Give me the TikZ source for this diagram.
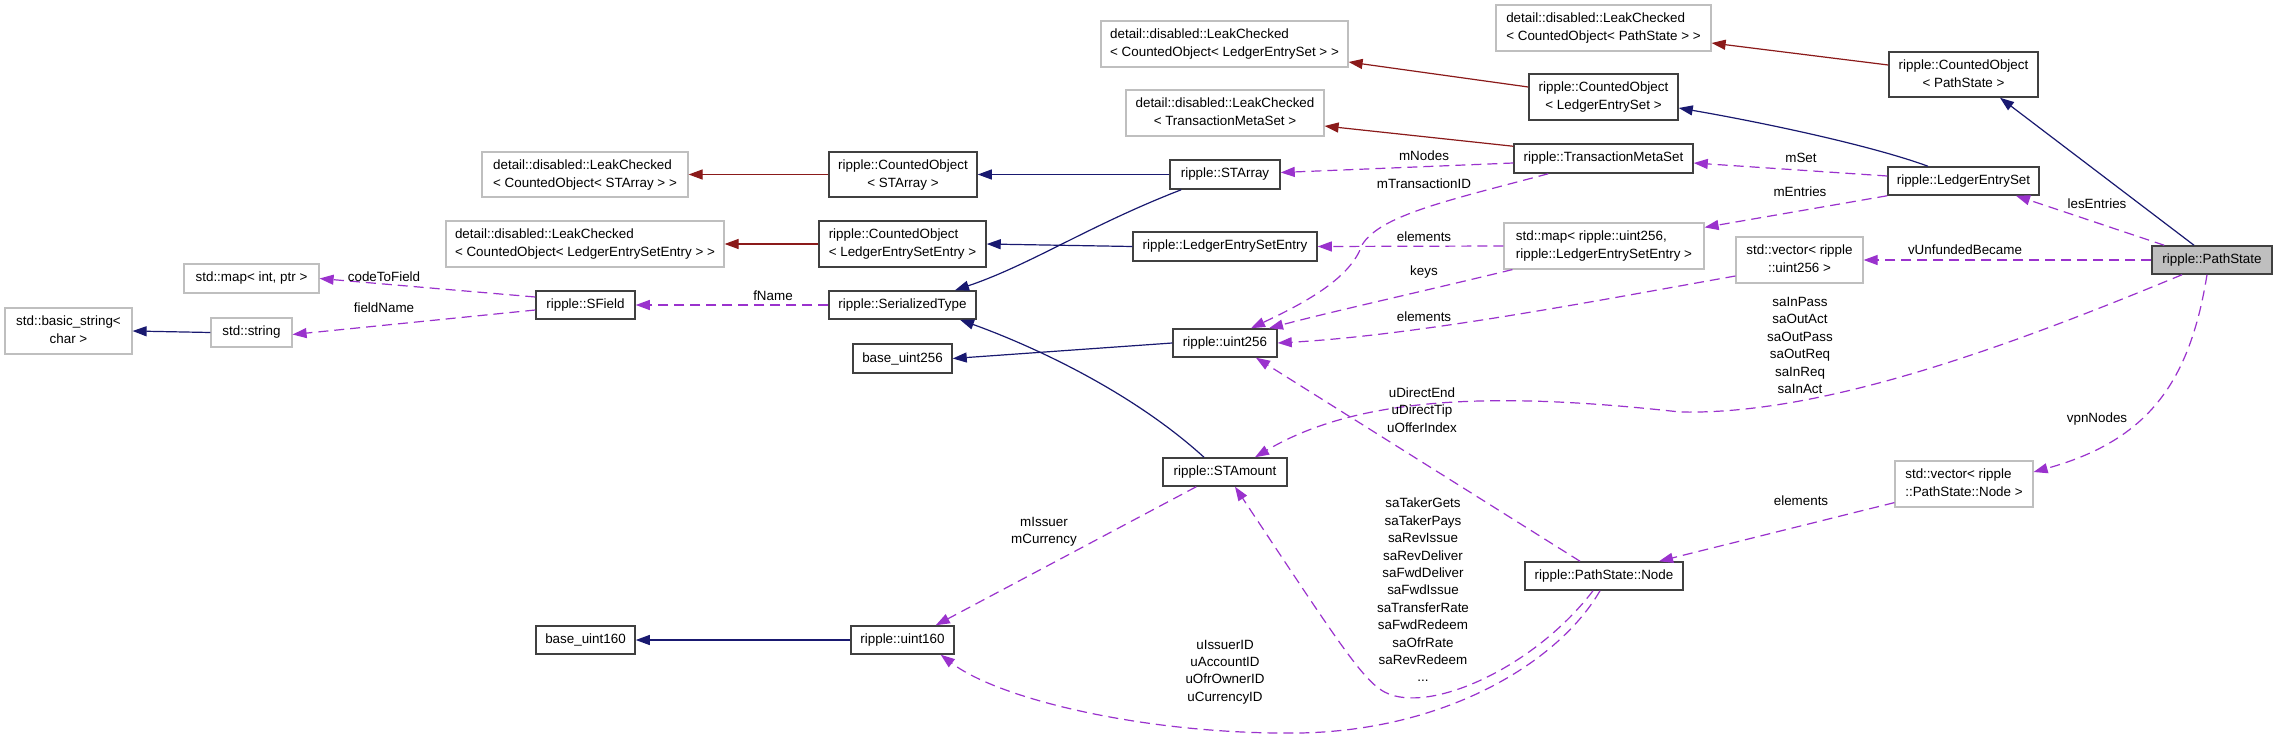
\documentclass[tikz,border=0pt]{standalone}
\usepackage{fontspec}
\setmainfont{Liberation Sans}
\usetikzlibrary{arrows.meta}
\definecolor{inh}{HTML}{191970}
\definecolor{tmpl}{HTML}{8B1A1A}
\definecolor{usecol}{HTML}{9A32CD}
\definecolor{gbord}{HTML}{BFBFBF}
\definecolor{kbord}{HTML}{404040}
\definecolor{psfill}{HTML}{BFBFBF}
\newcommand{\twoline}[2]{\begin{tabular}{@{}l@{}}#1\\\multicolumn{1}{@{}c@{}}{#2}\end{tabular}}
\begin{document}
\begin{tikzpicture}[x=0.5pt,y=-0.5pt,
  every node/.style={font=\fontsize{6.7}{9}\selectfont, inner sep=0pt},
  kbox/.style={draw=kbord, line width=0.75pt, fill=white},
  gbox/.style={draw=gbord, line width=0.6pt, fill=white},
  tip/.style={-{Triangle[length=7pt,width=5pt]}},
  inhedge/.style={draw=inh, line width=0.6pt, tip},
  tmpledge/.style={draw=tmpl, line width=0.6pt, tip},
  useedge/.style={draw=usecol, line width=0.6pt, dash pattern=on 5pt off 3pt, tip},
  lbl/.style={align=center, font=\fontsize{6.7}{8.7}\selectfont}]
\useasboundingbox (0,0) rectangle (2277,739);
\fill[white] (0,0) rectangle (2277,739);

% nodes
\node[gbox, minimum width=107.5pt, minimum height=23pt] (lcPS) at (1603.5,28) {\twoline{detail::disabled::LeakChecked}{< CountedObject< PathState > >}};
\node[gbox, minimum width=123.5pt, minimum height=23pt] (lcLES) at (1224.5,44) {\twoline{detail::disabled::LeakChecked}{< CountedObject< LedgerEntrySet > >}};
\node[kbox, minimum width=74.5pt, minimum height=23pt] (coLES) at (1603.5,97) {\twoline{ripple::CountedObject}{< LedgerEntrySet >}};
\node[kbox, minimum width=74.5pt, minimum height=22.5pt] (coPS) at (1963.5,74.5) {\twoline{ripple::CountedObject}{< PathState >}};
\node[gbox, minimum width=99pt, minimum height=23pt] (lcTMS) at (1225,113) {\twoline{detail::disabled::LeakChecked}{< TransactionMetaSet >}};
\node[kbox, minimum width=89.5pt, minimum height=14.5pt] (TMS) at (1603.5,158.5) {ripple::TransactionMetaSet};
\node[kbox, minimum width=75.5pt, minimum height=14pt] (LES) at (1963.5,181) {ripple::LedgerEntrySet};
\node[gbox, minimum width=103pt, minimum height=22.5pt] (lcSTA) at (585,174.5) {\twoline{detail::disabled::LeakChecked}{< CountedObject< STArray > >}};
\node[kbox, minimum width=74pt, minimum height=22.5pt] (coSTA) at (903,174.5) {\twoline{ripple::CountedObject}{< STArray >}};
\node[kbox, minimum width=55pt, minimum height=14.5pt] (STA) at (1225,174.5) {ripple::STArray};
\node[gbox, minimum width=139pt, minimum height=23pt] (lcLESE) at (585,244) {\twoline{detail::disabled::LeakChecked}{< CountedObject< LedgerEntrySetEntry > >}};
\node[kbox, minimum width=83.5pt, minimum height=23pt] (coLESE) at (902.5,244) {\twoline{ripple::CountedObject}{< LedgerEntrySetEntry >}};
\node[kbox, minimum width=92pt, minimum height=14.5pt] (LESE) at (1225,246.5) {ripple::LedgerEntrySetEntry};
\node[gbox, minimum width=100pt, minimum height=23pt] (mapU) at (1604,246) {\twoline{std::map< ripple::uint256,}{ripple::LedgerEntrySetEntry >}};
\node[gbox, minimum width=63.5pt, minimum height=23pt] (vecU) at (1799.5,260) {\twoline{std::vector< ripple}{::uint256 >}};
\node[kbox, fill=psfill, minimum width=60pt, minimum height=14pt] (PS) at (2212,260) {ripple::PathState};
\node[gbox, minimum width=67.5pt, minimum height=14.5pt] (mapIP) at (251.5,278.5) {std::map< int, ptr >};
\node[kbox, minimum width=49.5pt, minimum height=14pt] (SField) at (585.5,305) {ripple::SField};
\node[kbox, minimum width=73.5pt, minimum height=14pt] (SerT) at (902.5,305) {ripple::SerializedType};
\node[gbox, minimum width=40.5pt, minimum height=14.5pt] (str) at (251.5,332.5) {std::string};
\node[gbox, minimum width=63.5pt, minimum height=23pt] (bstr) at (68.5,331) {\twoline{std::basic\_string<}{char >}};
\node[kbox, minimum width=49.5pt, minimum height=14.5pt] (b256) at (902.5,358.5) {base\_uint256};
\node[kbox, minimum width=52pt, minimum height=14pt] (u256) at (1225,343) {ripple::uint256};
\node[kbox, minimum width=62pt, minimum height=14pt] (STAm) at (1225,472) {ripple::STAmount};
\node[gbox, minimum width=69pt, minimum height=23pt] (vecN) at (1964,484) {\twoline{std::vector< ripple}{::PathState::Node >}};
\node[kbox, minimum width=79pt, minimum height=14pt] (Node) at (1604,576) {ripple::PathState::Node};
\node[kbox, minimum width=51.5pt, minimum height=14pt] (u160) at (902.5,640) {ripple::uint160};
\node[kbox, minimum width=49.5pt, minimum height=14pt] (b160) at (585.5,640) {base\_uint160};

% template edges
\draw[tmpledge] (coSTA.west) -- (lcSTA.east);
\draw[tmpledge] (coLESE.west) -- (lcLESE.east);
\draw[tmpledge] ([yshift=5pt]coLES.west) -- ([yshift=-9pt]lcLES.east);
\draw[tmpledge] ([yshift=-1.5pt]TMS.north west) -- ([yshift=-6.5pt]lcTMS.east);
\draw[tmpledge] ([yshift=4.75pt]coPS.west) -- ([yshift=-7.5pt]lcPS.east);

% inheritance edges
\draw[inhedge] (STA.west) -- (coSTA.east);
\draw[inhedge] (LESE.west) -- (coLESE.east);
\draw[inhedge] ([xshift=6pt]STA.south west) .. controls (1090,225) and (1030,265) .. ([xshift=26.25pt]SerT.north);
\draw[inhedge] ([xshift=-10.5pt]STAm.north) .. controls (1130,390) and (1030,345) .. ([xshift=28.75pt]SerT.south);
\draw[inhedge] (u256.west) -- (b256.east);
\draw[inhedge] ([xshift=-17.75pt]LES.north) .. controls (1870,145) and (1760,122) .. ([yshift=-5.5pt]coLES.east);
\draw[inhedge] ([xshift=-9pt]PS.north) -- ([xshift=18.25pt]coPS.south);
\draw[inhedge] (u160.west) -- (b160.east);
\draw[inhedge] (str.west) -- (bstr.east);

% usage edges
\draw[useedge] ([yshift=4pt]SField.west) -- (mapIP.east);
\draw[useedge] ([yshift=-2.5pt]SField.west) -- ([yshift=-1pt]str.east);
\draw[useedge] (SerT.west) -- (SField.east);
\draw[useedge] ([yshift=-2.25pt]TMS.west) -- ([yshift=1pt]STA.east);
\draw[useedge] ([xshift=17.5pt]TMS.south west) .. controls (1450,200) and (1380,215) .. (1362,245) .. controls (1350,280) and (1300,305) .. ([xshift=13pt]u256.north);
\draw[useedge] (mapU.west) -- (LESE.east);
\draw[useedge] ([xshift=4.5pt]mapU.south west) .. controls (1420,292) and (1330,312) .. ([xshift=22pt]u256.north);
\draw[useedge] ([yshift=-8pt]vecU.west) .. controls (1600,300) and (1420,335) .. (u256.east);
\draw[useedge] ([yshift=2.5pt]LES.west) -- ([yshift=-2.25pt]TMS.east);
\draw[useedge] (LES.south west) -- ([yshift=-2.5pt]mapU.north east);
\draw[useedge] ([xshift=6.5pt]PS.north west) -- ([xshift=26.25pt]LES.south);
\draw[useedge] (PS.west) -- (vecU.east);
\draw[useedge] ([xshift=-15pt]PS.south) .. controls (2000,350) and (1820,415) .. (1680,412) .. controls (1500,392) and (1360,395) .. ([xshift=15pt]STAm.north);
\draw[useedge] ([xshift=-2.5pt]PS.south) .. controls (2190,380) and (2150,440) .. ([yshift=6pt]vecN.east);
\draw[useedge] ([yshift=2.5pt]vecN.south west) -- ([xshift=27.5pt]Node.north);
\draw[useedge] ([xshift=-12pt]Node.north) -- ([xshift=15.5pt]u256.south);
\draw[useedge] ([xshift=-5.5pt]Node.south) .. controls (1540,660) and (1450,705) .. (1400,697) .. controls (1370,692) and (1360,675) .. ([xshift=5pt]STAm.south);
\draw[useedge] ([xshift=-2pt]Node.south) .. controls (1560,660) and (1450,730) .. (1300,733) .. controls (1150,735) and (1000,700) .. ([xshift=-7pt]u160.south east);
\draw[useedge] ([xshift=17pt]STAm.south west) -- ([xshift=-9.5pt]u160.north east);

% edge labels
\node[lbl] (l1) at (384,277) {codeToField};
\node[lbl] (l2) at (384,308) {fieldName};
\node[lbl] (l3) at (773,296) {fName};
\node[lbl] (l4) at (1424,156) {mNodes};
\node[lbl] (l5) at (1424,184) {mTransactionID};
\node[lbl] (l6) at (1424,237) {elements};
\node[lbl] (l7) at (1424,272) {keys};
\node[lbl] (l8) at (1424,317) {elements};
\node[lbl] (l9) at (1801,158) {mSet};
\node[lbl] (l10) at (1800,192) {mEntries};
\node[lbl] (l11) at (2097,204) {lesEntries};
\node[lbl] (l12) at (1965,250) {vUnfundedBecame};
\node[lbl] (l13) at (1800,345.5) {saInPass\\saOutAct\\saOutPass\\saOutReq\\saInReq\\saInAct};
\node[lbl] (l14) at (2097,419) {vpnNodes};
\node[lbl] (l15) at (1801,501) {elements};
\node[lbl] (l16) at (1422,410) {uDirectEnd\\uDirectTip\\uOfferIndex};
\node[lbl] (l17) at (1423,590) {saTakerGets\\saTakerPays\\saRevIssue\\saRevDeliver\\saFwdDeliver\\saFwdIssue\\saTransferRate\\saFwdRedeem\\saOfrRate\\saRevRedeem\\...};
\node[lbl] (l18) at (1225,672) {uIssuerID\\uAccountID\\uOfrOwnerID\\uCurrencyID};
\node[lbl] (l19) at (1044,532) {mIssuer\\mCurrency};
\end{tikzpicture}
\end{document}
